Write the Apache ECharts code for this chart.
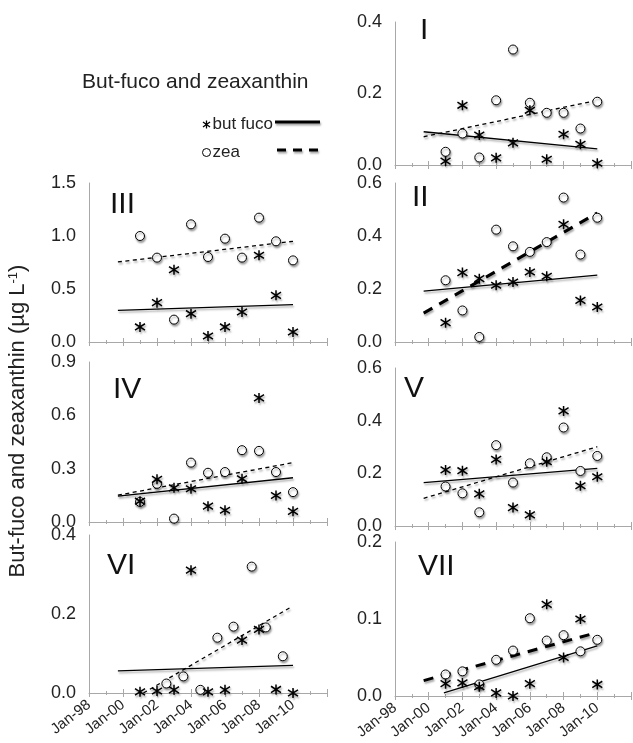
<!DOCTYPE html>
<html>
<head>
<meta charset="utf-8">
<script src="https://cdn.jsdelivr.net/npm/echarts@6/dist/echarts.min.js"></script>
<style>
  html, body { margin: 0; padding: 0; background: #fff; }
  #main { width: 633px; height: 743px; }
</style>
</head>
<body>
<div id="main"></div>
<script>
// sampling years (annual values)
var years = [2001, 2002, 2003, 2004, 2005, 2006, 2007, 2008, 2009, 2010];
var xTicks = [1998, 2000, 2002, 2004, 2006, 2008, 2010];

// panel I
var fucoI = [0.011, 0.167, 0.084, 0.020, 0.062, 0.153, 0.016, 0.086, 0.058, 0.005];
var zeaI = [0.037, 0.088, 0.021, 0.181, 0.323, 0.174, 0.146, 0.146, 0.102, 0.177];
// panel II
var fucoII = [0.073, 0.262, 0.239, 0.214, 0.226, 0.264, 0.248, 0.444, 0.157, 0.132];
var zeaII = [0.233, 0.119, 0.019, 0.424, 0.361, 0.340, 0.377, 0.545, 0.330, 0.469];
// panel III
var fucoIII = [0.142, 0.371, 0.682, 0.267, 0.057, 0.142, 0.283, 0.818, 0.440, 0.094];
var zeaIII = [1.000, 0.796, 0.211, 1.110, 0.802, 0.975, 0.796, 1.173, 0.950, 0.770];
// panel IV
var fucoIV = [0.117, 0.240, 0.192, 0.187, 0.089, 0.066, 0.243, 0.698, 0.149, 0.060];
var zeaIV = [0.113, 0.215, 0.019, 0.334, 0.277, 0.281, 0.404, 0.400, 0.281, 0.168];
// panel V
var fucoV = [0.213, 0.210, 0.122, 0.253, 0.070, 0.042, 0.244, 0.437, 0.153, 0.187];
var zeaV = [0.150, 0.124, 0.052, 0.307, 0.165, 0.238, 0.261, 0.374, 0.209, 0.266];
// panel VI (zea sampled at other dates)
var fucoVI = [0.003, 0.005, 0.008, 0.311, 0.003, 0.008, 0.134, 0.161, 0.009, 0.000];
var zeaYearsVI = [2002.55, 2003.55, 2004.55, 2005.55, 2006.5, 2007.57, 2008.4, 2009.4];
var zeaVI = [0.024, 0.042, 0.008, 0.140, 0.168, 0.320, 0.166, 0.093];
// panel VII
var fucoVII = [0.016, 0.017, 0.012, 0.004, 0.000, 0.016, 0.119, 0.050, 0.100, 0.015];
var zeaVII = [0.028, 0.032, 0.015, 0.047, 0.059, 0.101, 0.072, 0.079, 0.058, 0.073];

// trend lines: [start, end]
var trendYears = [1999.7, 2010.0];
var fucoTrendI = [0.093, 0.045],   zeaTrendI = [0.079, 0.181];
var fucoTrendII = [0.192, 0.252],  zeaTrendII = [0.109, 0.487];
var fucoTrendIII = [0.299, 0.352], zeaTrendIII = [0.755, 0.950];
var fucoTrendIV = [0.145, 0.249],  zeaTrendIV = [0.151, 0.334];
var fucoTrendV = [0.165, 0.219],   zeaTrendV = [0.105, 0.301];
var fucoTrendVI = [0.056, 0.070];
var zeaTrendYearsVI = [2001.2, 2009.9], zeaTrendVI = [0.000, 0.218];
var fucoTrendYearsVII = [2000.9, 2010.0], fucoTrendVII = [0.004, 0.065];
var zeaTrendYearsVII = [1999.7, 2009.9], zeaTrendVII = [0.020, 0.082];

var FONT = '"Liberation Sans", Arial, Helvetica, sans-serif';
var AXIS_GRAY = '#a8a8a8';
var STAR = 'path://M5,0L5,10M0.6,1.8L9.4,8.2M0.6,8.2L9.4,1.8';

var panels = [
    {label: 'I',   left: 395, width: 236, top: 22,  height: 143, max: 0.4, step: 0.2, fuco: fucoI,   zea: zeaI,   zeaX: years, fL: [trendYears, fucoTrendI],   zL: [trendYears, zeaTrendI],   bold: false, lx: 420, ly: 31},
    {label: 'II',  left: 395, width: 236, top: 183, height: 159, max: 0.6, step: 0.2, fuco: fucoII,  zea: zeaII,  zeaX: years, fL: [trendYears, fucoTrendII],  zL: [trendYears, zeaTrendII],  bold: true,  lx: 412, ly: 198},
    {label: 'III', left: 89,  width: 238, top: 183, height: 159, max: 1.5, step: 0.5, fuco: fucoIII, zea: zeaIII, zeaX: years, fL: [trendYears, fucoTrendIII], zL: [trendYears, zeaTrendIII], bold: false, lx: 110, ly: 205},
    {label: 'IV',  left: 89,  width: 238, top: 362, height: 160, max: 0.9, step: 0.3, fuco: fucoIV,  zea: zeaIV,  zeaX: years, fL: [trendYears, fucoTrendIV],  zL: [trendYears, zeaTrendIV],  bold: false, lx: 113, ly: 390},
    {label: 'V',   left: 395, width: 236, top: 368, height: 158, max: 0.6, step: 0.2, fuco: fucoV,   zea: zeaV,   zeaX: years, fL: [trendYears, fucoTrendV],   zL: [trendYears, zeaTrendV],   bold: false, lx: 404, ly: 389},
    {label: 'VI',  left: 89,  width: 238, top: 535, height: 158, max: 0.4, step: 0.2, fuco: fucoVI,  zea: zeaVI,  zeaX: zeaYearsVI, fL: [trendYears, fucoTrendVI], zL: [zeaTrendYearsVI, zeaTrendVI], bold: false, lx: 107, ly: 566, bottom: true},
    {label: 'VII', left: 395, width: 236, top: 542, height: 154, max: 0.2, step: 0.1, fuco: fucoVII, zea: zeaVII, zeaX: years, fL: [fucoTrendYearsVII, fucoTrendVII], zL: [zeaTrendYearsVII, zeaTrendVII], bold: true, lx: 418, ly: 567, bottom: true}
];

function pairs(xs, ys) {
    return ys.map(function (y, i) { return [xs[i], y]; });
}

var shadow = {shadowColor: 'rgba(0,0,0,0.35)', shadowBlur: 2, shadowOffsetX: 1, shadowOffsetY: 2};

var grid = [], xAxis = [], yAxis = [], series = [], graphic = [];

panels.forEach(function (p, i) {
    grid.push({left: p.left, top: p.top, width: p.width, height: p.height, outerBoundsMode: 'none', containLabel: false});

    var xBase = {
        type: 'value', gridIndex: i, min: 1998, max: 2012, interval: 2,
        position: 'bottom', splitLine: {show: false}
    };
    // outer half of the cross ticks, with labels
    xAxis.push(Object.assign({}, xBase, {
        axisLine: {show: true, onZero: false, lineStyle: {color: AXIS_GRAY, width: 1}},
        axisTick: {show: true, length: 4, lineStyle: {color: AXIS_GRAY}},
        minorTick: {show: true, splitNumber: 2, length: 2, lineStyle: {color: AXIS_GRAY}},
        axisLabel: {
            show: !!p.bottom, rotate: 38, margin: 10, color: '#222',
            textStyle: {fontSize: 15},
            fontSize: 15, fontFamily: FONT, hideOverlap: false,
            formatter: function (v) {
                if (xTicks.indexOf(v) < 0) return '';
                return 'Jan-' + String(v).slice(2);
            }
        }
    }));
    // inner half of the cross ticks
    xAxis.push(Object.assign({}, xBase, {
        axisLine: {show: false, onZero: false},
        axisTick: {show: true, inside: true, length: 4, lineStyle: {color: AXIS_GRAY}},
        minorTick: {show: true, splitNumber: 2, length: 2, lineStyle: {color: AXIS_GRAY}},
        axisLabel: {show: false}
    }));

    yAxis.push({
        type: 'value', gridIndex: i, min: 0, max: p.max, interval: p.step,
        axisLine: {show: true, lineStyle: {color: AXIS_GRAY, width: 1}},
        axisTick: {show: false},
        splitLine: {show: false},
        axisLabel: {
            fontSize: 18, color: '#222', fontFamily: FONT, margin: 13,
            formatter: function (v) { return v.toFixed(1); }
        }
    });

    series.push({
        name: 'but fuco', type: 'line', xAxisIndex: i * 2, yAxisIndex: i, z: 2,
        data: pairs(p.fL[0], p.fL[1]), symbol: 'none', silent: true,
        lineStyle: Object.assign({color: '#000', width: 1.3, type: 'solid'}, shadow)
    });
    series.push({
        name: 'zea', type: 'line', xAxisIndex: i * 2, yAxisIndex: i, z: 2,
        data: pairs(p.zL[0], p.zL[1]), symbol: 'none', silent: true,
        lineStyle: Object.assign({color: '#000', width: p.bold ? 3 : 1.3, type: p.bold ? [10, 8] : [4, 3.5]}, shadow)
    });
    series.push({
        name: 'zea', type: 'scatter', xAxisIndex: i * 2, yAxisIndex: i, z: 3,
        data: pairs(p.zeaX, p.zea), symbol: 'circle', symbolSize: 9,
        itemStyle: Object.assign({color: '#fff', borderColor: '#000', borderWidth: 1, opacity: 1}, shadow)
    });
    series.push({
        name: 'but fuco', type: 'scatter', xAxisIndex: i * 2, yAxisIndex: i, z: 4,
        data: pairs(years, p.fuco), symbol: STAR, symbolSize: 10,
        itemStyle: Object.assign({color: '#000', borderColor: '#000', borderWidth: 1.5, opacity: 1}, shadow)
    });

    graphic.push({
        type: 'text', x: p.lx, y: p.ly, silent: true,
        style: {text: p.label, font: '30px ' + FONT, fill: '#111', align: 'left', verticalAlign: 'middle'}
    });
});

// title
graphic.push({
    type: 'text', x: 82, y: 82, silent: true,
    style: {text: 'But-fuco and zeaxanthin', font: '21px ' + FONT, fill: '#222', align: 'left', verticalAlign: 'middle'}
});
// y axis title
graphic.push({
    type: 'text', x: 18, y: 421, rotation: Math.PI / 2, silent: true,
    style: {
        text: '{a|But-fuco and zeaxanthin (µg L}{s|-1}{a|)}',
        align: 'center', verticalAlign: 'middle',
        rich: {
            a: {fontSize: 22, fontFamily: FONT, fill: '#222'},
            s: {fontSize: 13, fontFamily: FONT, fill: '#222', verticalAlign: 'top', padding: [0, 0, 8, 0]}
        }
    }
});
// legend line samples
graphic.push({
    type: 'line', silent: true,
    shape: {x1: 275, y1: 122, x2: 320, y2: 122},
    style: Object.assign({stroke: '#000', lineWidth: 3}, shadow)
});
graphic.push({
    type: 'line', silent: true,
    shape: {x1: 277, y1: 150, x2: 320, y2: 150},
    style: Object.assign({stroke: '#000', lineWidth: 3, lineDash: [9, 7]}, shadow)
});

var chart = echarts.init(document.getElementById('main'));
chart.setOption({
    animation: false,
    backgroundColor: '#fff',
    textStyle: {fontFamily: FONT},
    legend: {
        orient: 'vertical', left: 197, top: 111, itemWidth: 8, itemHeight: 8, itemGap: 11,
        selectedMode: false,
        textStyle: {fontSize: 17, color: '#222', fontFamily: FONT, padding: [0, 0, 0, -3]},
        data: [
            {name: 'but fuco', icon: STAR, itemStyle: {color: '#000', borderColor: '#000', borderWidth: 1.3, opacity: 1}},
            {name: 'zea', icon: 'circle', itemStyle: {color: '#fff', borderColor: '#000', borderWidth: 1, opacity: 1}}
        ]
    },
    grid: grid,
    xAxis: xAxis,
    yAxis: yAxis,
    series: series,
    graphic: graphic
});
</script>
</body>
</html>
